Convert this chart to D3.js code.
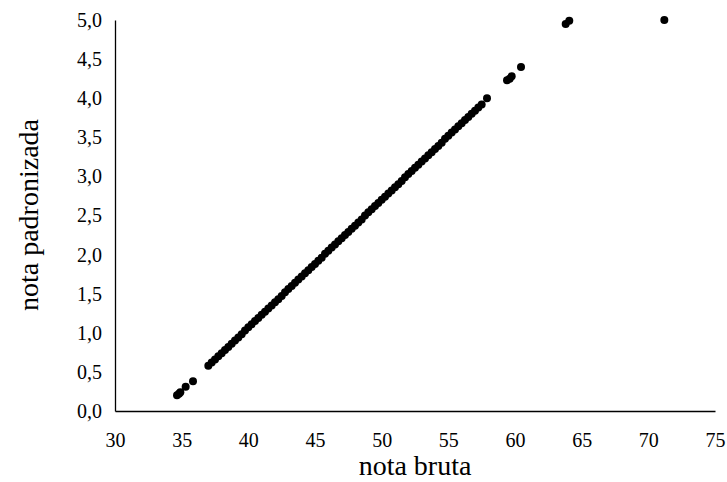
<!DOCTYPE html>
<html>
<head>
<meta charset="utf-8">
<script src="https://cdn.jsdelivr.net/npm/d3@7"></script>
<style>
  html, body { margin: 0; padding: 0; background: #fff; }
  svg { display: block; }
  text { font-family: "Liberation Serif", "Times New Roman", serif; fill: #000; }
</style>
</head>
<body>
<svg id="chart" width="727" height="482"></svg>
<script>
// nota bruta (x) values
const notaBruta = [
  34.65, 34.8, 34.9, 35.3, 35.85,
  37.0, 37.25, 37.5, 37.75, 38.0, 38.25, 38.5, 38.75, 39.0, 39.25, 39.5, 39.75,
  40.0, 40.25, 40.5, 40.75, 41.0, 41.25, 41.5, 41.75, 42.0, 42.25, 42.5, 42.75,
  43.0, 43.25, 43.5, 43.75, 44.0, 44.25, 44.5, 44.75, 45.0, 45.25, 45.5, 45.75,
  46.0, 46.25, 46.5, 46.75, 47.0, 47.25, 47.5, 47.75, 48.0, 48.25, 48.5, 48.75,
  49.0, 49.25, 49.5, 49.75, 50.0, 50.25, 50.5, 50.75, 51.0, 51.25, 51.5, 51.75,
  52.0, 52.25, 52.5, 52.75, 53.0, 53.25, 53.5, 53.75, 54.0, 54.25, 54.5, 54.75,
  55.0, 55.25, 55.5, 55.75, 56.0, 56.25, 56.5, 56.75, 57.0, 57.25, 57.5, 57.9,
  59.4, 59.6, 59.75, 60.45, 63.8, 64.07, 71.2
];
// nota padronizada (y) values
const notaPadronizada = [
  0.20, 0.22, 0.24, 0.31, 0.38,
  0.58, 0.62, 0.66, 0.70, 0.74, 0.78, 0.82, 0.86, 0.90, 0.94, 0.98, 1.03,
  1.07, 1.11, 1.15, 1.19, 1.23, 1.27, 1.31, 1.35, 1.39, 1.43, 1.47, 1.52,
  1.56, 1.60, 1.64, 1.68, 1.72, 1.76, 1.80, 1.84, 1.88, 1.92, 1.96, 2.01,
  2.05, 2.09, 2.13, 2.17, 2.21, 2.25, 2.29, 2.33, 2.37, 2.41, 2.45, 2.50,
  2.54, 2.58, 2.62, 2.66, 2.70, 2.74, 2.78, 2.82, 2.86, 2.90, 2.94, 2.99,
  3.03, 3.07, 3.11, 3.15, 3.19, 3.23, 3.27, 3.31, 3.35, 3.39, 3.43, 3.48,
  3.52, 3.56, 3.60, 3.64, 3.68, 3.72, 3.76, 3.80, 3.84, 3.88, 3.92, 4.00,
  4.23, 4.25, 4.28, 4.40, 4.95, 4.99, 5.00
];
const xTicks = [30, 35, 40, 45, 50, 55, 60, 65, 70, 75];
const yTicks = [0, 0.5, 1, 1.5, 2, 2.5, 3, 3.5, 4, 4.5, 5];
const xTitle = "nota bruta";
const yTitle = "nota padronizada";

const svg = d3.select("#chart");
const x = d3.scaleLinear().domain([30, 75]).range([115, 715]);
const y = d3.scaleLinear().domain([0, 5]).range([411, 20]);
const fmt = d => d3.format(".1f")(d).replace(".", ",");
const SERIF = '"Liberation Serif", "Times New Roman", serif';

// X axis
const gx = svg.append("g").attr("transform", `translate(0,${y(0)})`)
  .call(d3.axisBottom(x).tickValues(xTicks).tickSize(0).tickPadding(0).tickFormat(d3.format("d")));
gx.attr("font-family", null);
gx.select(".domain").attr("stroke", "#000").attr("stroke-width", 1.3);
gx.selectAll("text").style("font-family", SERIF).style("font-size", "20px").attr("dy", null).attr("y", 36);

// Y axis
const gy = svg.append("g").attr("transform", `translate(${x(30)},0)`)
  .call(d3.axisLeft(y).tickValues(yTicks).tickSize(0).tickPadding(13).tickFormat(fmt));
gy.attr("font-family", null);
gy.select(".domain").attr("stroke", "#000").attr("stroke-width", 1.3);
gy.selectAll("text").style("font-family", SERIF).style("font-size", "20px");

// Points
const pts = notaBruta.map((v, i) => ({ x: v, y: notaPadronizada[i] }));
svg.append("g").selectAll("circle").data(pts).join("circle")
  .attr("cx", d => x(d.x)).attr("cy", d => y(d.y)).attr("r", 4).attr("fill", "#000");

// Titles
svg.append("text").attr("x", 415).attr("y", 475).attr("text-anchor", "middle")
  .style("font-family", SERIF).style("font-size", "28px").text(xTitle);
svg.append("text").attr("transform", "translate(38,215) rotate(-90)").attr("text-anchor", "middle")
  .style("font-family", SERIF).style("font-size", "28px").text(yTitle);
</script>
</body>
</html>
